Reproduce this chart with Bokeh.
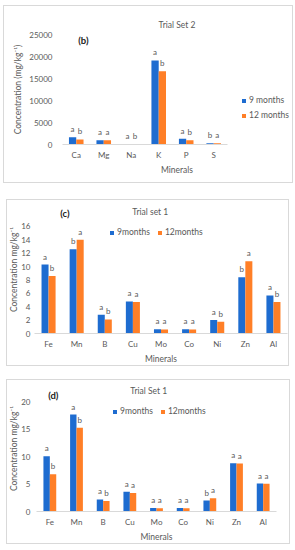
from bokeh.plotting import figure
from bokeh.models import (ColumnDataSource, Range1d, FixedTicker, Legend,
                          LegendItem, Label, Spacer)
from bokeh.layouts import column, row
from bokeh.core.properties import value
from bokeh.embed import file_html
from bokeh.resources import INLINE

# ---------------- data ----------------
macro_cats = ["Ca", "Mg", "Na", "K", "P", "S"]
macro_9m = [1670, 990, 60, 19100, 1300, 300]
macro_12m = [1140, 990, 50, 16650, 980, 280]
macro_l9 = ["a", "a", "a", "a", "a", "b"]
macro_l12 = ["b", "a", "b", "b", "b", "a"]

trace_cats = ["Fe", "Mn", "B", "Cu", "Mo", "Co", "Ni", "Zn", "Al"]
c_9m = [10.3, 12.6, 2.8, 4.8, 0.65, 0.65, 2.0, 8.4, 5.7]
c_12m = [8.6, 14.0, 2.1, 4.7, 0.6, 0.6, 1.75, 10.8, 4.7]
c_l9 = ["a", "b", "a", "a", "a", "a", "a", "b", "a"]
c_l12 = ["b", "a", "b", "a", "a", "a", "b", "a", "b"]

d_9m = [10.1, 17.7, 2.2, 3.6, 0.65, 0.65, 2.0, 8.8, 5.1]
d_12m = [6.8, 15.3, 1.9, 3.4, 0.6, 0.6, 2.4, 8.75, 5.05]
d_l9 = ["a", "a", "a", "a", "a", "a", "b", "a", "a"]
d_l12 = ["b", "b", "b", "a", "a", "a", "a", "a", "a"]

BLUE = "#1E6CD0"
ORANGE = "#FF7F27"
GREY = "#595959"
FONT = "Lato"


def base(cats, v9, v12, l9, l12, width, height, borders, xend, yend, yticks, ylabel, bw):
    n = len(cats)
    pos = [i + 0.5 for i in range(n)]
    src = ColumnDataSource(dict(cat=cats, pos=pos,
                                x9=[q - bw / 2 for q in pos], x12=[q + bw / 2 for q in pos],
                                v9=v9, v12=v12, l9=l9, l12=l12))
    p = figure(x_range=Range1d(0, xend), y_range=Range1d(0, yend),
               width=width, height=height, output_backend="svg",
               toolbar_location=None, tools="",
               min_border_left=borders[0], min_border_right=borders[1],
               min_border_top=borders[2], min_border_bottom=borders[3])
    p.outline_line_color = None
    p.grid.visible = False
    p.background_fill_color = None
    p.border_fill_color = None
    p.styles = {"box-shadow": "inset 0 0 0 1px #d9d9d9"}

    r9 = p.vbar(x="x9", top="v9", width=bw, source=src, fill_color=BLUE, line_color=None)
    r12 = p.vbar(x="x12", top="v12", width=bw, source=src, fill_color=ORANGE, line_color=None)
    for xcol, col, lcol in (("x9", "v9", "l9"), ("x12", "v12", "l12")):
        p.text(x=xcol, y=col, text=lcol, source=src,
               text_font=value(FONT), text_font_size="8px", text_color=GREY,
               text_align="center", text_baseline="bottom", y_offset=-3)

    p.xaxis.ticker = FixedTicker(ticks=pos)
    p.xaxis.major_label_overrides = {q: c for q, c in zip(pos, cats)}
    p.xaxis.bounds = (0, n)
    p.xaxis.axis_label = "Minerals"
    p.yaxis.axis_label = ylabel
    for ax in (p.xaxis, p.yaxis):
        ax.axis_label_text_font = FONT
        ax.axis_label_text_font_style = "normal"
        ax.axis_label_text_font_size = "8.5px"
        ax.axis_label_text_color = GREY
        ax.major_label_text_font = FONT
        ax.major_label_text_font_size = "8px"
        ax.major_label_text_color = GREY
        ax.major_tick_line_color = None
        ax.minor_tick_line_color = None
        ax.major_tick_out = 0
        ax.major_tick_in = 0
        ax.minor_tick_out = 0
        ax.minor_tick_in = 0
    p.xaxis.axis_line_color = "#d9d9d9"
    p.xaxis.major_label_standoff = 5
    p.xaxis.axis_label_standoff = 2
    p.yaxis.axis_line_color = None
    p.yaxis.ticker = FixedTicker(ticks=yticks)
    return p, r9, r12


def legend(r9, r12, names, loc, orient):
    return Legend(items=[LegendItem(label=names[0], renderers=[r9]),
                         LegendItem(label=names[1], renderers=[r12])],
                  location=loc, orientation=orient,
                  glyph_width=5, glyph_height=5, label_text_font=FONT,
                  label_text_font_size="8.5px", label_text_color=GREY,
                  label_standoff=3, label_height=10, label_width=10,
                  spacing=5 if orient == "vertical" else 7,
                  padding=0, margin=0, border_line_color=None,
                  background_fill_alpha=0)


def tag(p, text, x, y):
    p.add_layout(Label(x=x, y=y, text=text, text_font=FONT, text_font_size="9.5px",
                       text_font_style="bold", text_color="#222222",
                       text_align="center", text_baseline="middle"))


def title_label(p, text, x, y):
    p.add_layout(Label(x=x, y=y, text=text, text_font=FONT, text_font_size="8.5px",
                       text_color=GREY, text_align="center", text_baseline="middle"))


# ---- panel (b) ----  box x 3..293, y 5..183
p1, a9, a12 = base(macro_cats, macro_9m, macro_12m, macro_l9, macro_l12,
                   290, 178, (59, 2, 29, 39), 8.33, 25000, list(range(0, 25001, 5000)),
                   "Concentration (mg/kg⁻¹)", 0.265)
p1.yaxis.major_label_standoff = 10
p1.yaxis.axis_label_standoff = 3
p1.title.text = "Trial Set 2"
p1.title.align = "center"
p1.title.offset = 2
p1.title.text_font = FONT
p1.title.text_font_style = "normal"
p1.title.text_font_size = "8.5px"
p1.title.text_color = GREY
p1.title.standoff = 10
p1.add_layout(legend(a9, a12, ["9 months", "12 months"], (179, 24), "vertical"), "center")
tag(p1, "(b)", 0.76, 23600)

# ---- panel (c) ----  box x 6..289, y 199..366
p2, b9, b12 = base(trace_cats, c_9m, c_12m, c_l9, c_l12,
                   283, 167, (23, 2, 6, 27), 9, 19.14, list(range(0, 17, 2)),
                   "Concentration mg/kg⁻¹", 0.25)
p2.yaxis.major_label_standoff = 4
p2.yaxis.axis_label_standoff = -1
p2.add_layout(legend(b9, b12, ["9months", "12months"], (75, 96), "horizontal"), "center")
title_label(p2, "Trial set 1", 4.12, 18.15)
tag(p2, "(c)", 1.08, 18.0)

# ---- panel (d) ----  box x 6..290, y 380..545
p3, c9, c12 = base(trace_cats, d_9m, d_12m, d_l9, d_l12,
                   284, 165, (27, 14, 6, 27), 9, 23.02, list(range(0, 21, 5)),
                   "Concentration mg/kg⁻¹", 0.24)
p3.yaxis.major_label_standoff = 6
p3.yaxis.axis_label_standoff = -1
p3.add_layout(legend(c9, c12, ["9months", "12months"], (76, 95), "horizontal"), "center")
title_label(p3, "Trial Set 1", 4.21, 22.03)
tag(p3, "(d)", 0.63, 21.15)

layout = column(
    Spacer(height=5),
    row(Spacer(width=3), p1, spacing=0),
    Spacer(height=16),
    row(Spacer(width=6), p2, spacing=0),
    Spacer(height=13),
    row(Spacer(width=6), p3, spacing=0),
    spacing=0,
)

open("out.html", "w").write(file_html(layout, INLINE))
